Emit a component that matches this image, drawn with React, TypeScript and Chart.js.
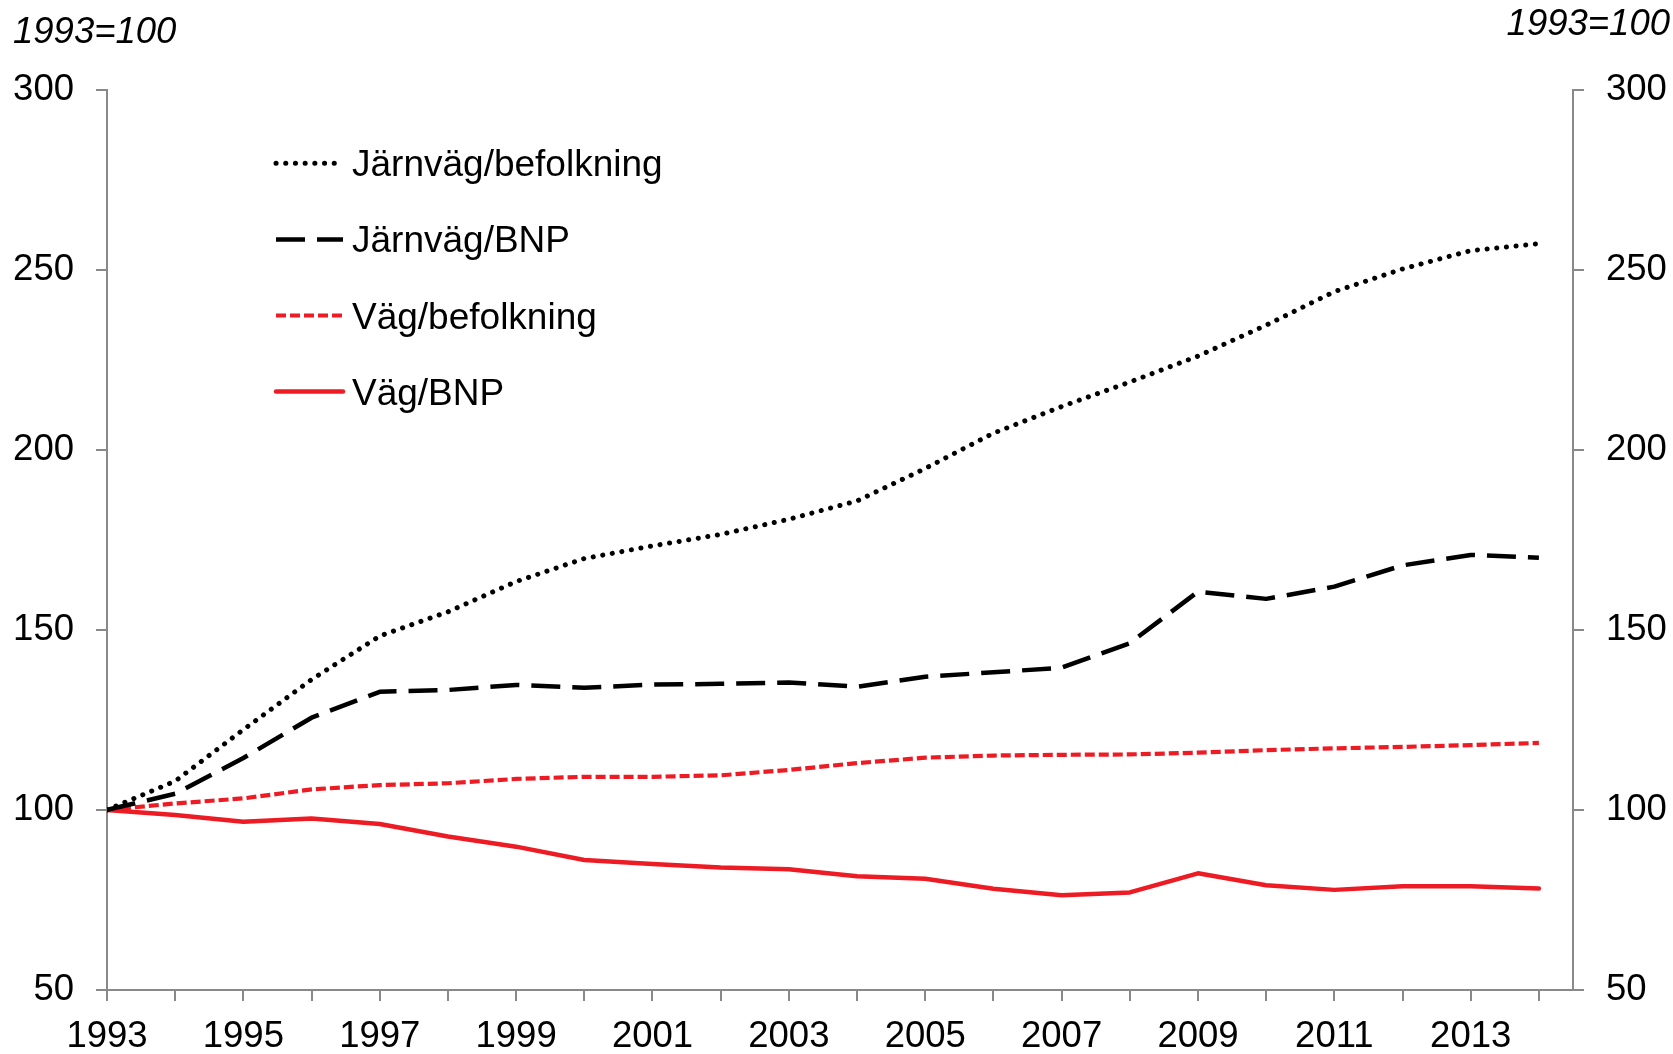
import React, { useEffect, useRef } from "react";
import { Chart, registerables } from "chart.js";

Chart.register(...registerables);

// ---- Data ----
const years = [
  1993, 1994, 1995, 1996, 1997, 1998, 1999, 2000, 2001, 2002, 2003,
  2004, 2005, 2006, 2007, 2008, 2009, 2010, 2011, 2012, 2013, 2014,
];
const xTickLabels = ["1993", "1995", "1997", "1999", "2001", "2003", "2005", "2007", "2009", "2011", "2013"];
const yTickValues = [50, 100, 150, 200, 250, 300];
const seriesLabels = ["Järnväg/befolkning", "Järnväg/BNP", "Väg/befolkning", "Väg/BNP"];
const indexLabel = "1993=100";

const jarnvagBefolkning = [100, 108, 122.3, 136.2, 148.3, 155, 163.4, 169.8, 173.3, 176.5, 180.7, 185.8, 194.8, 204.6, 212, 218.8, 226, 234.6, 243.9, 250.2, 255.3, 257.2];
const jarnvagBNP = [100, 104.5, 114.4, 125.6, 132.8, 133.3, 134.7, 133.9, 134.8, 135, 135.4, 134.2, 137, 138.2, 139.5, 146.3, 160.6, 158.6, 162, 167.9, 170.8, 170];
const vagBefolkning = [100, 101.8, 103.2, 105.7, 106.9, 107.4, 108.6, 109.2, 109.2, 109.6, 111.1, 113, 114.5, 115.1, 115.3, 115.4, 115.9, 116.6, 117.1, 117.5, 118, 118.6];
const vagBNP = [100, 98.6, 96.7, 97.6, 96.1, 92.6, 89.8, 86.1, 85, 84, 83.5, 81.6, 80.9, 78.1, 76.3, 77.1, 82.4, 79.1, 77.8, 78.8, 78.8, 78.2];

const FONT = '"Liberation Sans", Arial, sans-serif';
const RED = "#ED1C24";
const AXIS = "#898989";

const toPoints = (vals: number[]) => vals.map((v, i) => ({ x: years[i], y: v }));

const legendPlugin = {
  id: "insideLegend",
  afterDraw(chart: any) {
    const ctx = chart.ctx as CanvasRenderingContext2D;
    chart.data.datasets.forEach((ds: any, i: number) => {
      const y = 163.3 + i * 76.1;
      ctx.save();
      ctx.strokeStyle = ds.borderColor;
      ctx.lineWidth = ds.borderWidth;
      ctx.setLineDash(ds.borderDash || []);
      ctx.lineCap = ds.borderCapStyle || "butt";
      ctx.beginPath();
      ctx.moveTo(276, y);
      ctx.lineTo(343, y);
      ctx.stroke();
      ctx.setLineDash([]);
      ctx.fillStyle = "#000";
      ctx.font = `37px ${FONT}`;
      ctx.textAlign = "left";
      ctx.textBaseline = "alphabetic";
      ctx.fillText(ds.label, 352, y + 13);
      ctx.restore();
    });
  },
};

const indexLabelPlugin = {
  id: "indexLabels",
  afterDraw(chart: any) {
    const ctx = chart.ctx as CanvasRenderingContext2D;
    ctx.save();
    ctx.fillStyle = "#000";
    ctx.font = `italic 36.5px ${FONT}`;
    ctx.textBaseline = "alphabetic";
    ctx.textAlign = "left";
    ctx.fillText(indexLabel, 13, 43);
    ctx.textAlign = "right";
    ctx.fillText(indexLabel, 1670, 35);
    ctx.restore();
  },
};

export default function App() {
  const ref = useRef<HTMLCanvasElement | null>(null);

  useEffect(() => {
    document.body.style.margin = "0";
    const canvas = ref.current;
    if (!canvas) return;

    const yAxis = (position: "left" | "right") => ({
      type: "linear" as const,
      position,
      min: 50,
      max: 300,
      afterBuildTicks: (scale: any) => {
        scale.ticks = yTickValues.map((v) => ({ value: v }));
      },
      afterFit: (scale: any) => {
        scale.width = position === "left" ? 107 : 100;
      },
      ticks: {
        color: "#000",
        font: { family: FONT, size: 36.5 },
        padding: 22,
      },
      grid: {
        drawOnChartArea: false,
        drawTicks: true,
        tickLength: 11,
        color: AXIS,
        lineWidth: 2,
      },
      border: { display: true, color: AXIS, width: 2 },
    });

    const chart = new Chart(canvas, {
      type: "line",
      data: {
        datasets: [
          {
            label: seriesLabels[0],
            data: toPoints(jarnvagBefolkning),
            borderColor: "#000",
            borderWidth: 5,
            borderDash: [0.1, 9.6],
            borderCapStyle: "round",
            yAxisID: "y",
          },
          {
            label: seriesLabels[1],
            data: toPoints(jarnvagBNP),
            borderColor: "#000",
            borderWidth: 4.5,
            borderDash: [29, 12],
            borderCapStyle: "butt",
            yAxisID: "y",
          },
          {
            label: seriesLabels[2],
            data: toPoints(vagBefolkning),
            borderColor: RED,
            borderWidth: 4.2,
            borderDash: [10, 4],
            borderCapStyle: "butt",
            yAxisID: "y",
          },
          {
            label: seriesLabels[3],
            data: toPoints(vagBNP),
            borderColor: RED,
            borderWidth: 4.5,
            borderCapStyle: "round",
            yAxisID: "y",
          },
        ] as any,
      },
      options: {
        animation: false,
        responsive: false,
        devicePixelRatio: 1,
        layout: { padding: { top: 89.6, left: 0, right: 0, bottom: 0 } },
        elements: {
          point: { radius: 0, hoverRadius: 0 },
          line: { tension: 0, borderJoinStyle: "round" },
        },
        plugins: {
          legend: { display: false },
          tooltip: { enabled: false },
        },
        scales: {
          x: {
            type: "linear",
            min: 1993,
            max: 2014.5,
            afterFit: (scale: any) => {
              scale.height = 64;
            },
            ticks: {
              stepSize: 1,
              includeBounds: false,
              autoSkip: false,
              maxRotation: 0,
              minRotation: 0,
              color: "#000",
              font: { family: FONT, size: 36.5 },
              padding: 14,
              callback: (value: any) => {
                const s = String(value);
                return xTickLabels.includes(s) ? s : "";
              },
            },
            grid: {
              drawOnChartArea: false,
              drawTicks: true,
              tickLength: 11,
              color: AXIS,
              lineWidth: 2,
            },
            border: { display: true, color: AXIS, width: 2 },
          },
          y: yAxis("left"),
          y2: yAxis("right"),
        } as any,
      },
      plugins: [legendPlugin, indexLabelPlugin],
    });

    return () => chart.destroy();
  }, []);

  return (
    <div style={{ width: 1673, height: 1054 }}>
      <canvas ref={ref} width={1673} height={1054} style={{ display: "block", width: 1673, height: 1054 }} />
    </div>
  );
}
